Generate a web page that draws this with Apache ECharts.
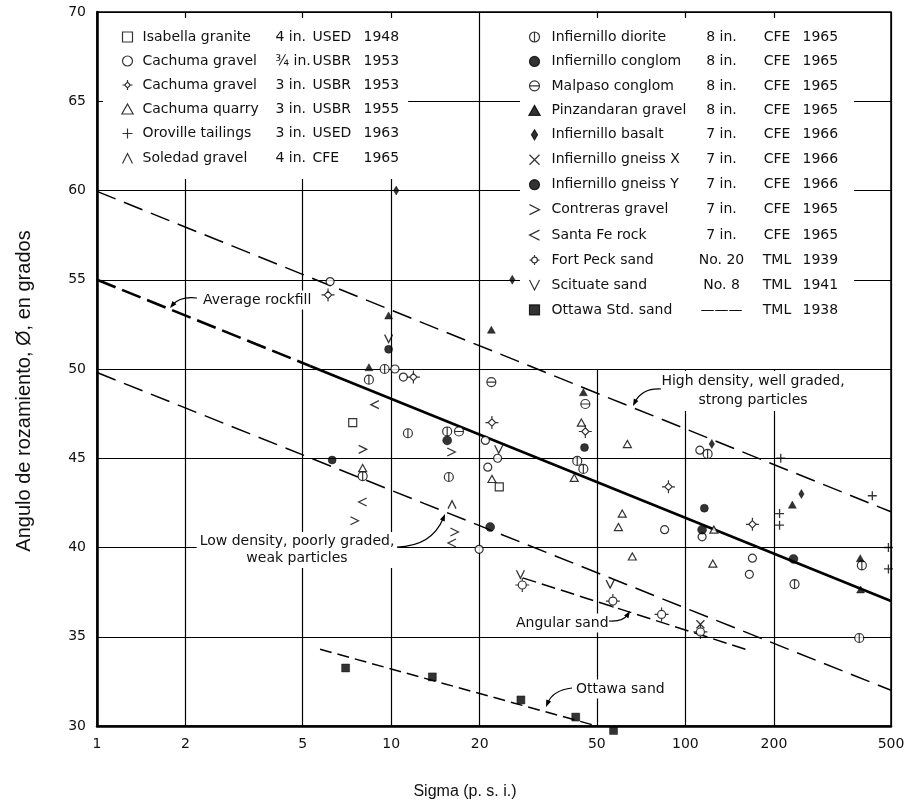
<!DOCTYPE html>
<html><head><meta charset="utf-8">
<script src="https://cdn.jsdelivr.net/npm/echarts@6/dist/echarts.min.js"></script>
<style>html,body{margin:0;padding:0;background:#fff}#c{width:908px;height:808px}</style>
</head><body><div id="c"></div>
<script>
// ---------- axis ticks ----------
const xTicks = [1, 2, 5, 10, 20, 50, 100, 200, 500];
const yMin = 30, yMax = 70, yStep = 5;

// ---------- legend rows ----------
const legendNames = ['Isabella granite','Cachuma gravel','Cachuma gravel','Cachuma quarry','Oroville tailings','Soledad gravel',
  'Infiernillo diorite','Infiernillo conglom','Malpaso conglom','Pinzandaran gravel','Infiernillo basalt','Infiernillo gneiss X',
  'Infiernillo gneiss Y','Contreras gravel','Santa Fe rock','Fort Peck sand','Scituate sand','Ottawa Std. sand'];
const legendSizes = ['4 in.','¾ in.','3 in.','3 in.','3 in.','4 in.','8 in.','8 in.','8 in.','8 in.','7 in.','7 in.','7 in.','7 in.','7 in.','No. 20','No. 8','———'];
const legendAgency = ['USED','USBR','USBR','USBR','USED','CFE','CFE','CFE','CFE','CFE','CFE','CFE','CFE','CFE','CFE','TML','TML','TML'];
const legendYears = ['1948','1953','1953','1955','1963','1965','1965','1965','1965','1965','1966','1966','1966','1965','1965','1939','1941','1938'];

// ---------- data points [sigma psi, angle deg] ----------
const isabella = [[7.4,47.0],[23.3,43.4]];
const cachumaFine = [[6.2,54.9],[10.3,50.0],[11.0,49.55],[20.9,46.0],[21.3,44.5],[23.0,45.0],[19.9,39.9],[85,41.0],[112,45.45],[114,40.6],[169,39.4],[165,38.5]];
const cachumaCoarse = [[6.1,54.15],[11.9,49.55],[22.0,47.0],[45.7,46.5],[87.6,43.4],[169,41.3]];
const cachumaQuarry = [[8.0,44.45],[22.0,43.84],[44.3,47.0],[41.9,43.9],[63.5,45.8],[61,41.9],[59.2,41.15],[66,39.5],[124,39.1],[125,41.0]];
const oroville = [[211,45.0],[209,41.9],[209,41.25],[432,42.9],[490,40.0],[490,38.8]];
const soledad = [[16.1,42.4]];
const diorite = [[9.5,50.0],[8.4,49.4],[8.0,44.0],[11.4,46.4],[15.5,46.5],[15.7,43.95],[42.9,44.85],[45,44.4],[119,45.24],[235,37.95],[390,34.93],[398,39.0]];
const conglom = [[6.3,44.9],[9.8,51.1],[45.4,45.6],[116,42.2]];
const malpaso = [[17.0,46.5],[21.9,49.27],[45.7,48.04]];
const pinzandaran = [[9.8,53.0],[8.4,50.1],[21.9,52.2],[45,48.7],[231,42.4],[393,39.4],[394,37.65]];
const basalt = [[10.4,60.0],[25.8,55.0],[123,45.8],[248,43.0]];
const gneissX = [[112.5,35.7]];
const gneissY = [[15.5,46.0],[21.7,41.15],[114,41.0],[233,39.36]];
const contreras = [[8.0,45.5],[7.5,41.5],[16.0,45.35],[16.4,40.87]];
const santaFe = [[8.8,48.0],[8.0,42.55],[16.1,40.25]];
const fortPeck = [[27.9,37.9],[56.7,37.0],[83,36.25],[112.5,35.27]];
const scituate = [[9.8,51.7],[23.2,45.5],[27.5,38.5],[55.5,37.95]];
const ottawa = [[7.0,33.25],[13.8,32.75],[27.6,31.46],[42.4,30.5],[57,29.75]];

// ---------- trend lines ----------
const highDensityLine = [[1,59.95],[500,42.0]];
const avgRockfillDashed = [[1,55.0],[5.3,50.17]];
const avgRockfillSolid = [[5.3,50.17],[500,37.0]];
const lowDensityLine = [[1,49.8],[500,32.0]];
const angularSandLine = [[28,38.3],[160,34.3]];
const ottawaSandLine = [[5.73,34.3],[50,30.0]];

// ---------- symbols ----------
const circ = r => `M${-r},0 A${r},${r} 0 1,1 ${r},0 A${r},${r} 0 1,1 ${-r},0 Z`;
const SYM = {
  square: 'path://M-4,-4 L4,-4 L4,4 L-4,4 Z',
  circle: 'path://' + circ(4),
  triangle: 'path://M0,-4.5 L4.5,3.5 L-4.5,3.5 Z',
  plus: 'path://M-5,0 L5,0 M0,-5 L0,5',
  hat: 'path://M-4,4 L0,-4 L4,4',
  phi: 'path://' + circ(4) + ' M0,-4 L0,4',
  theta: 'path://' + circ(4) + ' M-4,0 L4,0',
  cross: 'path://M-4,-4 L4,4 M-4,4 L4,-4',
  gt: 'path://M-4,-4 L4,0 L-4,4',
  lt: 'path://M4,-4 L-4,0 L4,4',
  vee: 'path://M-4,-4 L0,4 L4,-4',
  starDiamond: 'path://M0,-4 L4,0 L0,4 L-4,0 Z M0,-4 L0,-7 M4,0 L7,0 M0,4 L0,7 M-4,0 L-7,0',
  spikeCircle: 'path://' + circ(4) + ' M0,-4 L0,-7 M4,0 L7,0 M0,4 L0,7 M-4,0 L-7,0',
  basalt: 'path://M0,-5 L3,0 L0,5 L-3,0 Z'
};
const OPEN = {color:'#fff', borderColor:'#000', borderWidth:1.2};
const STROKE = {color:'none', borderColor:'#000', borderWidth:1.3};
const FILL = {color:'#000', borderColor:'#000', borderWidth:0.5};

const scatterDefs = [
  [isabella,SYM.square,8,OPEN],
  [cachumaFine,SYM.circle,8,OPEN],
  [cachumaCoarse,SYM.starDiamond,13,OPEN],
  [cachumaQuarry,SYM.triangle,8,OPEN],
  [oroville,SYM.plus,9,STROKE],
  [soledad,SYM.hat,8,STROKE],
  [diorite,SYM.phi,9,OPEN],
  [conglom,SYM.circle,8,FILL],
  [malpaso,SYM.theta,9,OPEN],
  [pinzandaran,SYM.triangle,8,FILL],
  [basalt,SYM.basalt,9,FILL],
  [gneissX,SYM.cross,8,STROKE],
  [gneissY,SYM.circle,9,FILL],
  [contreras,SYM.gt,8,STROKE],
  [santaFe,SYM.lt,8,STROKE],
  [fortPeck,SYM.spikeCircle,14,OPEN],
  [scituate,SYM.vee,8,STROKE],
  [ottawa,SYM.square,8,FILL]
];
const seriesNames = legendNames.map((n,i)=> n + ' ' + legendSizes[i]);

const series = scatterDefs.map((d,i)=>({
  type:'scatter', name: seriesNames[i], data: d[0], symbol: d[1], symbolSize: d[2],
  symbolKeepAspect: true, itemStyle: d[3], z: 6, clip: false, silent: true
}));
function lineSeries(data, width, dash){
  return {type:'line', data, symbol:'none', z:5, silent:true, clip:false,
    lineStyle:{color:'#000', width, type: dash || 'solid'}};
}
series.push(lineSeries(highDensityLine, 1.5, [20,9]));
series.push(lineSeries(avgRockfillDashed, 2.6, [20,7]));
series.push(lineSeries(avgRockfillSolid, 2.6));
series.push(lineSeries(lowDensityLine, 1.5, [20,9]));
series.push(lineSeries(angularSandLine, 1.5, [14,6]));
series.push(lineSeries(ottawaSandLine, 1.5, [12,6]));

const FONT = 'DejaVu Sans';
function legendFmt(name){
  const i = seriesNames.indexOf(name);
  return `{n|${legendNames[i]}}{s|${legendSizes[i]}}{a|${legendAgency[i]}}{y|${legendYears[i]}}`;
}
function richFor(wn, ws, wa, sAlign){
  const base = {fontFamily:FONT, fontSize:14, color:'#111', lineHeight:14};
  return {n:{...base,width:wn}, s:{...base,width:ws,align:sAlign}, a:{...base,width:wa}, y:{...base}};
}

// ---------- annotations (pixel layout) ----------
function arrow(x0,y0,cx,cy,x1,y1){
  const dx=x1-cx, dy=y1-cy, L=Math.hypot(dx,dy), ux=dx/L, uy=dy/L, nx=-uy, ny=ux, hl=7, hw=2.6;
  return [
    {type:'bezierCurve', z:7, silent:true, shape:{x1:x0,y1:y0,cpx1:cx,cpy1:cy,x2:x1-ux*4,y2:y1-uy*4}, style:{stroke:'#000',lineWidth:1.2,fill:'none'}},
    {type:'polygon', z:7, silent:true, shape:{points:[[x1,y1],[x1-ux*hl+nx*hw,y1-uy*hl+ny*hw],[x1-ux*hl-nx*hw,y1-uy*hl-ny*hw]]}, style:{fill:'#000'}}
  ];
}
function label(text, x, y, align, lh){
  return {type:'text', z:1, silent:true, x, y, style:{text, x:0, y:0, align, verticalAlign:'middle',
    font:`14px "${FONT}"`, fill:'#111', backgroundColor:'#fff', padding:[1,3], lineHeight: lh || 17}};
}
const graphics = [
  label('Average rockfill', 200, 300, 'left'),
  ...arrow(197,298, 180,296, 170,308),
  label('High density, well graded,\nstrong particles', 753, 391, 'center', 19),
  ...arrow(661,389, 642,388, 633,406),
  label('Low density, poorly graded,\nweak particles', 297, 550, 'center', 17),
  ...arrow(397,547, 432,546, 445,514),
  label('Angular sand', 513, 623, 'left'),
  ...arrow(609,621, 623,622, 630,611),
  label('Ottawa sand', 573, 689, 'left'),
  ...arrow(572,688, 553,690, 546,707)
];

const chart = echarts.init(document.getElementById('c'), null, {renderer:'canvas'});
chart.setOption({
  backgroundColor:'#fff',
  animation:false,
  grid:{left:97, right:17, top:12, bottom:82, show:true, borderColor:'#000', borderWidth:1.5, backgroundColor:'transparent'},
  xAxis:{type:'log', logBase:10, min:1, max:500,
    name:'Sigma (p. s. i.)', nameLocation:'middle', nameGap:58,
    nameTextStyle:{fontFamily:'Liberation Sans', fontSize:16, color:'#111', padding:[0,58,0,0]},
    axisLine:{show:true, lineStyle:{color:'#000', width:2.5}},
    axisTick:{show:false, customValues:xTicks},
    axisLabel:{customValues:xTicks, margin:11, fontFamily:FONT, fontSize:14, color:'#111', formatter:v=>String(Math.round(v))},
    splitLine:{show:true, lineStyle:{color:'#000', width:1.2}}
  },
  yAxis:{type:'value', min:yMin, max:yMax, interval:yStep,
    name:'Angulo de rozamiento, Ø, en grados', nameLocation:'middle', nameGap:63, nameRotate:90,
    nameTextStyle:{fontFamily:'Liberation Sans', fontSize:20, color:'#111', padding:[0,44,0,0]},
    axisLine:{show:true, lineStyle:{color:'#000', width:2.5}},
    axisTick:{show:false},
    axisLabel:{margin:11, fontFamily:FONT, fontSize:14, color:'#111'},
    splitLine:{show:true, lineStyle:{color:'#000', width:1.2}}
  },
  legend:[
    {data: seriesNames.slice(0,6), orient:'vertical', left:103, top:18, padding:[12,9,13,17],
     backgroundColor:'#fff', itemWidth:20, itemHeight:10, itemGap:10, selectedMode:false,
     itemStyle:{borderWidth:1.2}, formatter:legendFmt, textStyle:{fontFamily:FONT, fontSize:14, rich:richFor(133,37,51,'left')}},
    {data: seriesNames.slice(6), orient:'vertical', left:520, top:18, padding:[12,16,52,7],
     backgroundColor:'#fff', itemWidth:24, itemHeight:10, itemGap:10.45, selectedMode:false,
     itemStyle:{borderWidth:1.2}, formatter:legendFmt, textStyle:{fontFamily:FONT, fontSize:14, rich:richFor(140,60,51,'center')}}
  ],
  graphic: graphics,
  series
});
</script></body></html>
